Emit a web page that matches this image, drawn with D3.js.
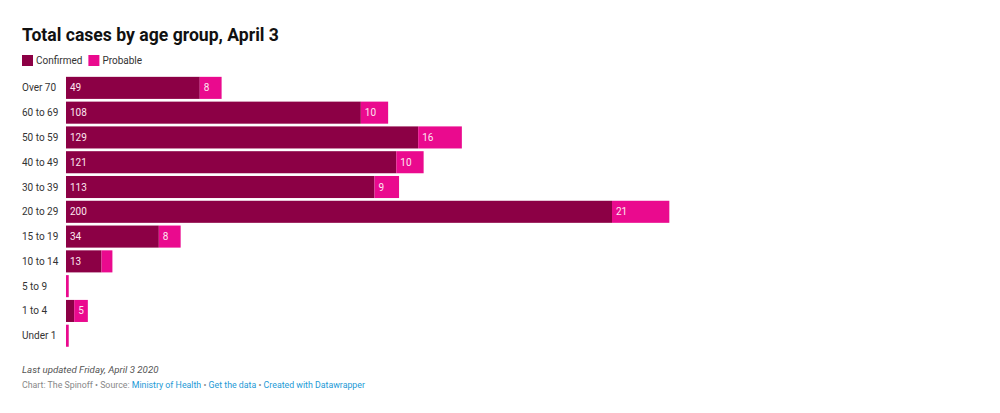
<!DOCTYPE html>
<html><head><meta charset="utf-8">
<script src="https://cdn.jsdelivr.net/npm/d3@7"></script>
<style>
body{margin:0;background:#fff;font-family:Roboto,"Noto Sans",sans-serif;}
</style></head>
<body><svg id="c" width="1000" height="413"></svg>
<script>
const categories = ["Over 70","60 to 69","50 to 59","40 to 49","30 to 39","20 to 29","15 to 19","10 to 14","5 to 9","1 to 4","Under 1"];
const confirmed = [49,108,129,121,113,200,34,13,0,3,0];
const probable  = [8,10,16,10,9,21,8,4,1,5,1];
const seriesNames = ["Confirmed","Probable"];
const colors = ["#8c0045","#ea0a8e"];

const svg = d3.select("#c");
const x0 = 66, x1 = 612;
const x = d3.scaleLinear().domain([0,200]).range([x0,x1]);
const y = d3.scaleBand().domain(categories).range([75.6,348]).paddingInner(0.11).paddingOuter(0.05);

svg.append("text").attr("x",22).attr("y",41).attr("font-size",17.6).attr("font-weight",700)
  .attr("fill","#111").text("Total cases by age group, April 3");

// legend
let lx = 22;
seriesNames.forEach((n,i)=>{
  svg.append("rect").attr("x",lx).attr("y",55).attr("width",11).attr("height",11).attr("fill",colors[i]);
  const t = svg.append("text").attr("x",lx+14).attr("y",64).attr("font-size",10).attr("fill","#333").text(n);
  lx += 14 + t.node().getComputedTextLength() + 6;
});

const g = svg.append("g");
categories.forEach((c,i)=>{
  const yy = y(c), h = y.bandwidth();
  g.append("text").attr("x",22).attr("y",yy+h/2+3.5).attr("font-size",10).attr("fill","#333").text(c);
  const segs = [[0,confirmed[i]],[confirmed[i],confirmed[i]+probable[i]]];
  segs.forEach((s,j)=>{
    const w = x(s[1])-x(s[0]);
    if (w<=0) return;
    g.append("rect").attr("x",x(s[0])).attr("y",yy).attr("width",w).attr("height",h).attr("fill",colors[j]);
    if (w>12) g.append("text").attr("x",x(s[0])+4).attr("y",yy+h/2+3.5).attr("font-size",10)
      .attr("fill","#fde6f0").text(s[1]-s[0]);
  });
});

svg.append("text").attr("x",22).attr("y",373).attr("font-size",9.7).attr("font-style","italic").attr("fill","#555")
  .text("Last updated Friday, April 3 2020");
const f = svg.append("text").attr("x",22).attr("y",388).attr("font-size",8.8);
f.append("tspan").attr("fill","#888").text("Chart: The Spinoff • Source: ");
f.append("tspan").attr("fill","#1d9ad6").text("Ministry of Health");
f.append("tspan").attr("fill","#888").text(" • ");
f.append("tspan").attr("fill","#1d9ad6").text("Get the data");
f.append("tspan").attr("fill","#888").text(" • ");
f.append("tspan").attr("fill","#1d9ad6").text("Created with Datawrapper");
</script></body></html>
